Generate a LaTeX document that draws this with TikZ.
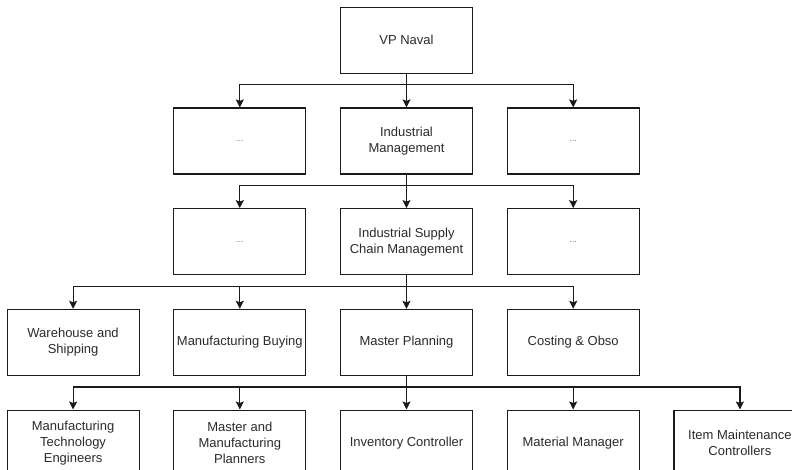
\documentclass[tikz,border=0pt]{standalone}
\usepackage{fontspec}
\setmainfont{Liberation Sans}
\usepackage{xcolor}
\usetikzlibrary{arrows.meta,positioning}
\definecolor{inkline}{HTML}{1A1A1A}
\definecolor{inktext}{HTML}{2B2B2B}
\definecolor{dotgrey}{HTML}{7A7A7A}
\tikzset{
  orgbox/.style={draw=inkline, fill=white, line width=1.2pt, minimum width=132pt, minimum height=66pt, align=center, inner sep=2pt, font=\fontsize{13}{16}\selectfont, text=inktext},
  orgdots/.style={orgbox, font=\fontsize{9}{10}\selectfont, text=dotgrey},
  orgarrow/.style={-{Stealth[length=8pt,width=8pt,inset=1.5pt]}, line width=1.2pt, inkline},
}

\begin{document}
\begin{tikzpicture}[x=1pt, y=1pt, node distance=33.5pt and 33.5pt]
  \path[use as bounding box, clip] (0,0) rectangle (792,-470);
  % top
  \node[orgbox] (vp) at (406.5,-40.3) {VP Naval};
  % second level
  \node[orgbox, below=of vp] (indmgmt) {Industrial\\Management};
  \node[orgdots, left=of indmgmt] (dotsA) {...};
  \node[orgdots, right=of indmgmt] (dotsB) {...};
  % third level
  \node[orgbox, below=of indmgmt] (iscm) {Industrial Supply\\Chain Management};
  \node[orgdots, left=of iscm] (dotsC) {...};
  \node[orgdots, right=of iscm] (dotsD) {...};
  % fourth level
  \node[orgbox, below=of iscm] (masterplan) {Master Planning};
  \node[orgbox, left=of masterplan] (buying) {Manufacturing Buying};
  \node[orgbox, left=of buying] (warehouse) {Warehouse and\\Shipping};
  \node[orgbox, right=of masterplan] (costing) {Costing \& Obso};
  % fifth level
  \node[orgbox, below=of masterplan] (inventory) {Inventory Controller};
  \node[orgbox, left=of inventory] (planners) {Master and\\Manufacturing\\Planners};
  \node[orgbox, left=of planners] (mte) {Manufacturing\\Technology\\Engineers};
  \node[orgbox, right=of inventory] (material) {Material Manager};
  \node[orgbox, right=of material] (itemmaint) {Item Maintenance\\Controllers};
  % connectors
  \draw[orgarrow] (vp.south) -- ++(0,-11) -| (dotsA.north);
  \draw[orgarrow] (vp.south) -- (indmgmt.north);
  \draw[orgarrow] (vp.south) -- ++(0,-11) -| (dotsB.north);
  \draw[orgarrow] (indmgmt.south) -- ++(0,-11) -| (dotsC.north);
  \draw[orgarrow] (indmgmt.south) -- (iscm.north);
  \draw[orgarrow] (indmgmt.south) -- ++(0,-11) -| (dotsD.north);
  \draw[orgarrow] (iscm.south) -- ++(0,-11) -| (warehouse.north);
  \draw[orgarrow] (iscm.south) -- ++(0,-11) -| (buying.north);
  \draw[orgarrow] (iscm.south) -- (masterplan.north);
  \draw[orgarrow] (iscm.south) -- ++(0,-11) -| (costing.north);
  \draw[orgarrow] (masterplan.south) -- ++(0,-11) -| (mte.north);
  \draw[orgarrow] (masterplan.south) -- ++(0,-11) -| (planners.north);
  \draw[orgarrow] (masterplan.south) -- (inventory.north);
  \draw[orgarrow] (masterplan.south) -- ++(0,-11) -| (material.north);
  \draw[orgarrow] (masterplan.south) -- ++(0,-11) -| (itemmaint.north);
\end{tikzpicture}
\end{document}
